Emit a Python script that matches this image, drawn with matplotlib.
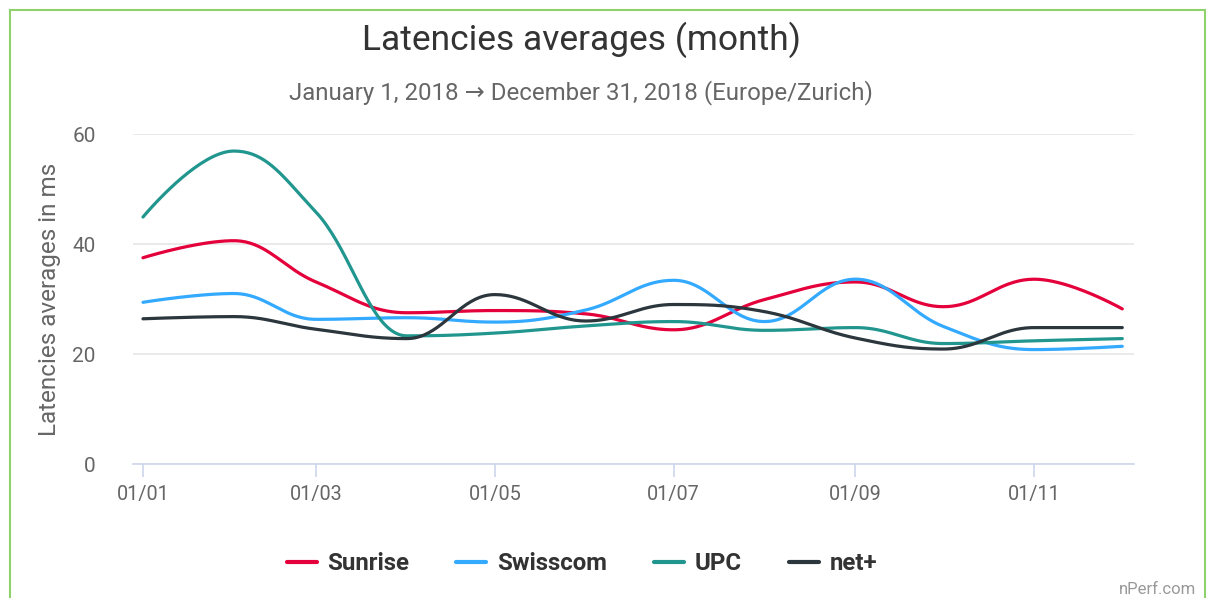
import numpy as np
import matplotlib
matplotlib.use("Agg")
import matplotlib.pyplot as plt
import matplotlib.dates as mdates
from matplotlib.patches import Rectangle
import datetime as dt

plt.rcParams['font.family'] = ['Roboto', 'DejaVu Sans']

months = ["2018-01-01", "2018-02-01", "2018-03-01", "2018-04-01", "2018-05-01", "2018-06-01",
          "2018-07-01", "2018-08-01", "2018-09-01", "2018-10-01", "2018-11-01", "2018-12-01"]
sunrise = [37.5, 40.6, 33.1, 27.5, 27.9, 27.3, 24.4, 29.9, 33.1, 28.6, 33.6, 28.2]
swisscom = [29.4, 31.0, 26.3, 26.6, 25.8, 28.0, 33.4, 25.9, 33.6, 25.0, 20.8, 21.4]
upc = [44.9, 56.9, 45.8, 23.3, 23.8, 25.1, 25.9, 24.3, 24.8, 21.9, 22.4, 22.8]
netplus = [26.4, 26.8, 24.5, 22.8, 30.8, 26.0, 29.0, 27.7, 22.9, 20.9, 24.8, 24.8]

series_names = ["Sunrise", "Swisscom", "UPC", "net+"]
series_values = [sunrise, swisscom, upc, netplus]
series_colors = ["#e4003b", "#33aaff", "#21968f", "#2b363d"]

tick_dates = ["2018-01-01", "2018-03-01", "2018-05-01", "2018-07-01", "2018-09-01", "2018-11-01"]
y_ticks = [0, 20, 40, 60]


def spline_path(xs, ys, n=40):
    """Highcharts-style spline: cubic bezier with smoothing 1.5."""
    xs = np.asarray(xs, float)
    ys = np.asarray(ys, float)
    N = len(xs)
    lc = [None] * N
    rc = [None] * N
    sm = 1.5
    den = sm + 1
    for i in range(1, N - 1):
        px, py = xs[i], ys[i]
        lx, ly = xs[i - 1], ys[i - 1]
        nx, ny = xs[i + 1], ys[i + 1]
        lcx = (sm * px + lx) / den
        lcy = (sm * py + ly) / den
        rcx = (sm * px + nx) / den
        rcy = (sm * py + ny) / den
        corr = ((rcy - lcy) * (rcx - px)) / (rcx - lcx) + py - rcy
        lcy += corr
        rcy += corr
        if lcy > ly and lcy > py:
            lcy = max(ly, py)
            rcy = 2 * py - lcy
        elif lcy < ly and lcy < py:
            lcy = min(ly, py)
            rcy = 2 * py - lcy
        if rcy > ny and rcy > py:
            rcy = max(ny, py)
            lcy = 2 * py - rcy
        elif rcy < ny and rcy < py:
            rcy = min(ny, py)
            lcy = 2 * py - rcy
        lc[i] = (lcx, lcy)
        rc[i] = (rcx, rcy)
    outx, outy = [xs[0]], [ys[0]]
    t = np.linspace(0, 1, n)[1:]
    for i in range(1, N):
        p0 = (xs[i - 1], ys[i - 1])
        p1 = rc[i - 1] if rc[i - 1] is not None else p0
        p3 = (xs[i], ys[i])
        p2 = lc[i] if lc[i] is not None else p3
        bx = (1 - t) ** 3 * p0[0] + 3 * (1 - t) ** 2 * t * p1[0] + 3 * (1 - t) * t ** 2 * p2[0] + t ** 3 * p3[0]
        by = (1 - t) ** 3 * p0[1] + 3 * (1 - t) ** 2 * t * p1[1] + 3 * (1 - t) * t ** 2 * p2[1] + t ** 3 * p3[1]
        outx.extend(bx)
        outy.extend(by)
    return np.array(outx), np.array(outy)


W, H = 1207, 598
fig = plt.figure(figsize=(W / 100, H / 100), dpi=100)
fig.patch.set_facecolor("white")

# green frame
fig.patches.append(Rectangle((10 / W, -0.05), (1205 - 10) / W, (H - 10) / H + 0.05,
                             transform=fig.transFigure, fill=False, edgecolor="#8fd16a",
                             linewidth=1.5))

left, right, top, bottom = 133, 1134, 134, 464
ax = fig.add_axes([left / W, 1 - bottom / H, (right - left) / W, (bottom - top) / H])

xnum = mdates.date2num([dt.datetime.strptime(m, "%Y-%m-%d") for m in months])
for name, vals, col in zip(series_names, series_values, series_colors):
    sx, sy = spline_path(xnum, vals)
    ax.plot(sx, sy, color=col, lw=2.3, label=name, solid_capstyle="round", zorder=3)

ax.set_ylim(0, 60)
ax.set_xlim(xnum[0] - 3.4, xnum[-1] + 4.0)
ax.set_yticks(y_ticks)
ax.grid(axis="y", color="#e6e6e6", lw=1.2)
ax.set_axisbelow(True)
for s in ["top", "right", "left"]:
    ax.spines[s].set_visible(False)
ax.spines["bottom"].set_color("#ccd6eb")
ax.spines["bottom"].set_linewidth(1.2)
ax.spines["bottom"].set_zorder(1)

tnum = mdates.date2num([dt.datetime.strptime(d, "%Y-%m-%d") for d in tick_dates])
ax.set_xticks(tnum)
ax.set_xticklabels([dt.datetime.strptime(d, "%Y-%m-%d").strftime("%d/%m") for d in tick_dates])
ax.tick_params(axis="x", colors="#ccd6eb", length=9, width=1.2, labelcolor="#666666",
               labelsize=14.3, pad=6)
ax.tick_params(axis="y", length=0, labelcolor="#666666", labelsize=15, pad=27)
ax.set_ylabel("Latencies averages in ms", color="#666666", fontsize=17.5, labelpad=8)

fig.text(581 / W, 1 - 40 / H, "Latencies averages (month)", ha="center", va="center",
         fontsize=25.5, color="#333333")
fig.text(581 / W, 1 - 93 / H, "January 1, 2018 \u2192 December 31, 2018 (Europe/Zurich)",
         ha="center", va="center", fontsize=17.3, color="#666666")

leg = fig.legend(loc="center", bbox_to_anchor=(582 / W, 1 - 564 / H), ncol=4, frameon=False,
                 prop={"weight": "bold", "size": 17.3}, handlelength=1.25, handletextpad=0.45,
                 columnspacing=1.95)
for t in leg.get_texts():
    t.set_color("#333333")
for l in leg.get_lines():
    l.set_linewidth(3)

fig.text(1196 / W, 1 - 590 / H, "nPerf.com", ha="right", va="center", fontsize=12,
         color="#999999")

fig.savefig("out.png", dpi=100)
